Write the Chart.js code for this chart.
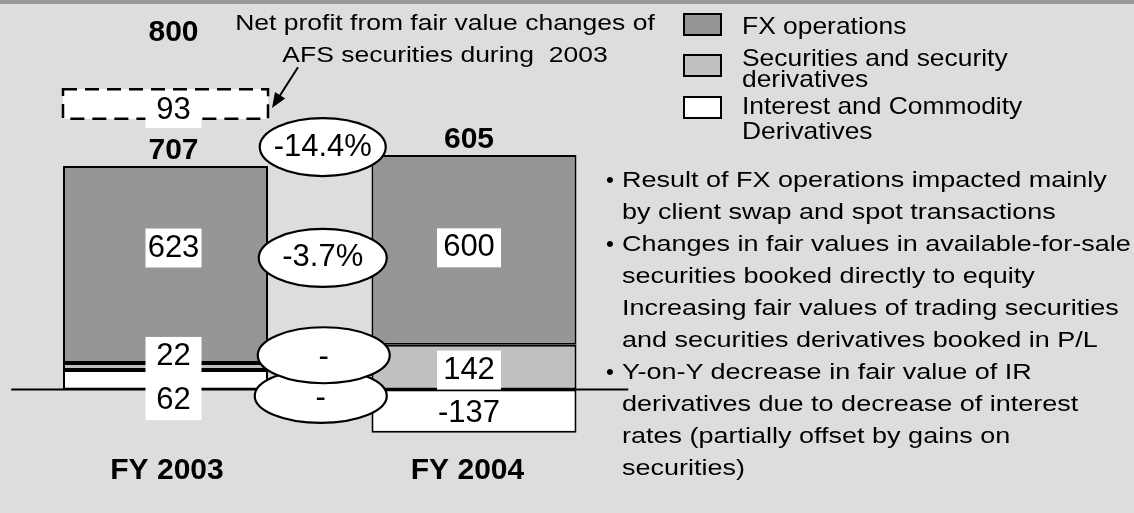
<!DOCTYPE html>
<html>
<head>
<meta charset="utf-8">
<title>Trading result FY 2003 / FY 2004</title>
<script src="https://cdn.jsdelivr.net/npm/chart.js@4/dist/chart.umd.min.js"></script>
<style>
  html, body { margin: 0; padding: 0; }
  body {
    width: 1134px; height: 513px; overflow: hidden; position: relative;
    background: #dddddd; color: #000;
    font-family: "Liberation Sans", Arial, sans-serif;
  }
  #topStrip { position: absolute; left: 0; top: 0; width: 1134px; height: 4px; background: #999999; }
  #chartBox { position: absolute; left: 0; top: 0; width: 1134px; height: 513px; }

  .note {
    position: absolute; left: 145px; width: 600px; text-align: center;
    font-size: 21.2px; line-height: 1; white-space: nowrap; transform: scaleX(1.25);
  }

  .legend-box { position: absolute; left: 683px; width: 39px; height: 23px; box-sizing: border-box; border: 2px solid #000; }
  .legend-txt {
    position: absolute; left: 742px; font-size: 24px; line-height: 1; white-space: nowrap;
    transform: scaleX(1.1); transform-origin: 0 0;
  }

  .bullet { position: absolute; left: 606px; font-size: 22.5px; line-height: 1; }
  .point {
    position: absolute; left: 622px; font-size: 22.5px; line-height: 1; white-space: nowrap;
    transform: scaleX(1.2); transform-origin: 0 0;
  }
</style>
</head>
<body>
<div id="chartBox"><canvas id="trading-chart"></canvas></div>
<div id="topStrip"></div>

<!-- annotation for the dashed AFS box -->
<div class="note" style="top:12px">Net profit from fair value changes of</div>
<div class="note" style="top:44px">AFS securities during&nbsp; 2003</div>

<!-- legend -->
<div class="legend-box" style="top:13px; background:#969696"></div>
<div class="legend-box" style="top:54px; background:#c0c0c0"></div>
<div class="legend-box" style="top:96px; background:#ffffff"></div>
<div class="legend-txt" style="top:13.7px">FX operations</div>
<div class="legend-txt" style="top:45.7px">Securities and security</div>
<div class="legend-txt" style="top:66.7px">derivatives</div>
<div class="legend-txt" style="top:93.7px">Interest and Commodity</div>
<div class="legend-txt" style="top:118.7px">Derivatives</div>

<!-- comments -->
<div class="bullet" style="top:169px">&bull;</div>
<div class="point" style="top:169px">Result of FX operations impacted mainly</div>
<div class="point" style="top:201px">by client swap and spot transactions</div>
<div class="bullet" style="top:233px">&bull;</div>
<div class="point" style="top:233px">Changes in fair values in available-for-sale</div>
<div class="point" style="top:265px">securities booked directly to equity</div>
<div class="point" style="top:297px">Increasing fair values of trading securities</div>
<div class="point" style="top:329px">and securities derivatives booked in P/L</div>
<div class="bullet" style="top:361px">&bull;</div>
<div class="point" style="top:361px">Y-on-Y decrease in fair value of IR</div>
<div class="point" style="top:393px">derivatives due to decrease of interest</div>
<div class="point" style="top:425px">rates (partially offset by gains on</div>
<div class="point" style="top:457px">securities)</div>

<script>
// =====================
// Data
// =====================
const categories = ["FY 2003", "FY 2004"];
const fxOperations = [623, 600];
const securitiesDerivatives = [22, 142];
const interestCommodity = [62, -137];
const netResult = [707, 605];
const afsFairValue = [93, null];     // booked to equity, shown as dashed box
const resultInclAfs = [800, null];
const yoyChange = ["-14.4%", "-3.7%", "-", "-"]; // total, FX, securities, interest
const yRange = [-200, 1200];

// =====================
// Look
// =====================
const FONT = '"Liberation Sans", Arial, sans-serif';
const afsLift = 150;            // dashed box floats above the 2003 bar
const labelDx = [8, -5];        // value labels sit a bit off the bar centre
const fyDx = [1.5, -6.5];
const segLabelDy = [[21, 2], [-10, 3], [-16.5, -2]]; // interest, securities, fx
const segBoxW = [56, 64];

function drawText(ctx, text, x, y, font, boxW, boxH) {
    ctx.font = font;
    if (boxW) {
        ctx.fillStyle = "#fff";
        ctx.fillRect(x - boxW / 2, y - boxH / 2, boxW, boxH);
    }
    ctx.fillStyle = "#000";
    ctx.textAlign = "center";
    ctx.textBaseline = "middle";
    ctx.fillText(text, x, y);
}

function drawBubble(ctx, text, x, y, rx, ry, textDy) {
    ctx.beginPath();
    ctx.ellipse(x, y, rx, ry, 0, 0, Math.PI * 2);
    ctx.fillStyle = "#fff";
    ctx.fill();
    ctx.lineWidth = 2.2;
    ctx.strokeStyle = "#000";
    ctx.stroke();
    drawText(ctx, text, x, y + (textDy || 0), "31px " + FONT);
}

const zeroLine = {
    id: "zeroLine",
    beforeDatasetsDraw(chart) {
        const ctx = chart.ctx, area = chart.chartArea;
        const y0 = chart.scales.y.getPixelForValue(0);
        ctx.save();
        ctx.strokeStyle = "#000";
        ctx.lineWidth = 2;
        ctx.beginPath();
        ctx.moveTo(area.left, y0);
        ctx.lineTo(area.right, y0);
        ctx.stroke();
        ctx.restore();
    }
};

const annotations = {
    id: "annotations",
    afterDatasetsDraw(chart) {
        const ctx = chart.ctx;
        const xs = chart.scales.x;
        ctx.save();

        // dashed AFS box + its labels + arrow
        const afsBar = chart.getDatasetMeta(3).data[0];
        const left = afsBar.x - afsBar.width / 2;
        const right = afsBar.x + afsBar.width / 2;
        const top = Math.min(afsBar.y, afsBar.base);
        const bottom = Math.max(afsBar.y, afsBar.base);
        ctx.setLineDash([14, 8]);
        ctx.lineWidth = 2.5;
        ctx.strokeStyle = "#000";
        ctx.strokeRect(left, top, right - left, bottom - top);
        ctx.setLineDash([]);
        drawText(ctx, String(afsFairValue[0]), afsBar.x + labelDx[0], (top + bottom) / 2 + 6, "31px " + FONT, 56, 36);
        drawText(ctx, String(resultInclAfs[0]), afsBar.x + labelDx[0], top - 57, "bold 30px " + FONT);

        const tipX = right + 4, tipY = (top + bottom) / 2 + 4;
        const fromX = right + 30, fromY = top - 22;
        const ang = Math.atan2(tipY - fromY, tipX - fromX);
        ctx.lineWidth = 2;
        ctx.beginPath();
        ctx.moveTo(fromX, fromY);
        ctx.lineTo(tipX - 10 * Math.cos(ang), tipY - 10 * Math.sin(ang));
        ctx.stroke();
        ctx.beginPath();
        ctx.moveTo(tipX, tipY);
        ctx.lineTo(tipX - 15 * Math.cos(ang) + 6 * Math.sin(ang), tipY - 15 * Math.sin(ang) - 6 * Math.cos(ang));
        ctx.lineTo(tipX - 15 * Math.cos(ang) - 6 * Math.sin(ang), tipY - 15 * Math.sin(ang) + 6 * Math.cos(ang));
        ctx.closePath();
        ctx.fillStyle = "#000";
        ctx.fill();

        // segment values
        const labelY = [[], [], []];
        [0, 1, 2].forEach(di => {
            const values = chart.data.datasets[di].data;
            chart.getDatasetMeta(di).data.forEach((bar, i) => {
                const cy = (bar.y + bar.base) / 2 + segLabelDy[di][i];
                const boxed = values[i] >= 0;
                drawText(ctx, String(values[i]), bar.x + labelDx[i], cy, "31px " + FONT, boxed ? segBoxW[i] : 0, 39);
                labelY[di][i] = cy;
            });
        });

        // totals above the bars
        const totalY = [];
        chart.getDatasetMeta(2).data.forEach((bar, i) => {
            totalY[i] = bar.y - 15;
            drawText(ctx, String(netResult[i]), bar.x + labelDx[i], totalY[i], "bold 30px " + FONT);
        });

        // year-on-year bubbles
        const midX = (xs.getPixelForValue(0) + xs.getPixelForValue(1)) / 2 + 3;
        const avg = a => (a[0] + a[1]) / 2;
        drawBubble(ctx, yoyChange[0], midX, avg(totalY) + 1.5, 63, 29);
        drawBubble(ctx, yoyChange[1], midX, avg(labelY[2]) + 10, 64, 29);
        drawBubble(ctx, yoyChange[3], midX - 2, avg(labelY[0]) - 11, 66, 27, 3);
        drawBubble(ctx, yoyChange[2], midX + 1, avg(labelY[1]) - 8, 66, 28, 2);

        // category labels
        chart.getDatasetMeta(2).data.forEach((bar, i) => {
            drawText(ctx, categories[i], bar.x + fyDx[i], 471, "bold 30px " + FONT);
        });

        ctx.restore();
    }
};

function renderChart() {
    const ctx = document.getElementById("trading-chart").getContext("2d");
    const afsData = afsFairValue.map((v, i) =>
        v == null ? null : [netResult[i] + afsLift, netResult[i] + afsLift + v]);

    const barStyle = {
        borderColor: "#000",
        borderWidth: 2,
        borderSkipped: false,
        categoryPercentage: 1,
        barPercentage: 0.6645
    };

    new Chart(ctx, {
        type: "bar",
        data: {
            labels: categories,
            datasets: [
                { label: "Interest and Commodity Derivatives", data: interestCommodity, backgroundColor: "#ffffff", ...barStyle },
                { label: "Securities and security derivatives", data: securitiesDerivatives, backgroundColor: "#c0c0c0", ...barStyle },
                { label: "FX operations", data: fxOperations, backgroundColor: "#969696", ...barStyle },
                {
                    label: "AFS fair value changes 2003", data: afsData, stack: "afs", grouped: false,
                    backgroundColor: "#ffffff", borderWidth: 0,
                    categoryPercentage: 1, barPercentage: 0.6645
                }
            ]
        },
        options: {
            responsive: true,
            maintainAspectRatio: false,
            animation: false,
            devicePixelRatio: 1,
            layout: { padding: { left: 11.25, right: 505.75, top: 10.3, bottom: 60.3 } },
            scales: {
                x: { stacked: true, display: false },
                y: { stacked: true, display: false, min: yRange[0], max: yRange[1] }
            },
            plugins: {
                legend: { display: false },
                tooltip: { enabled: false }
            }
        },
        plugins: [zeroLine, annotations]
    });
}

document.addEventListener("DOMContentLoaded", renderChart);
</script>
</body>
</html>
